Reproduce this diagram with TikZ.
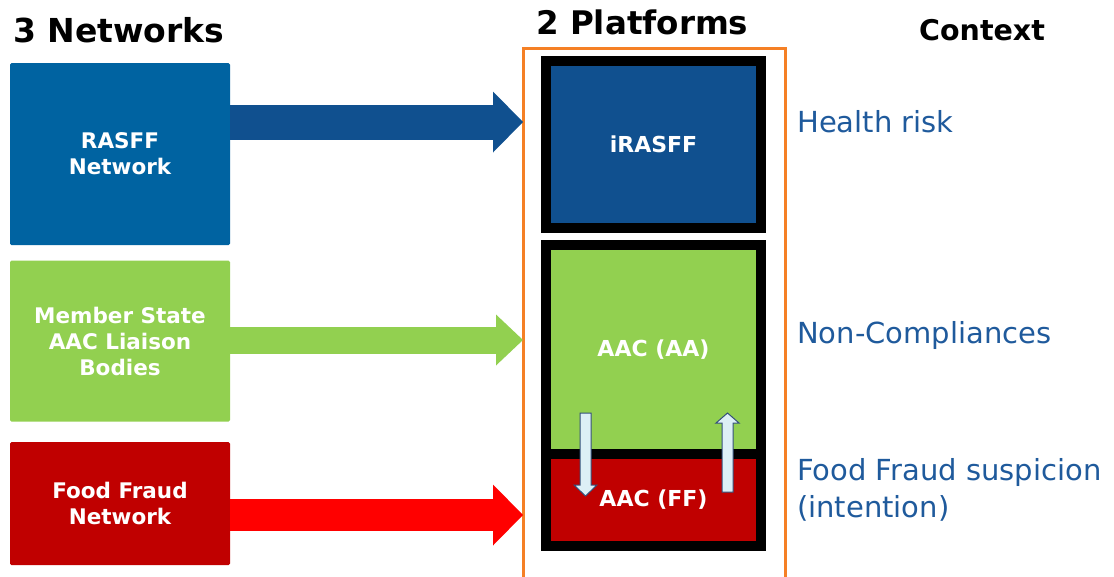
\documentclass[tikz,border=0pt]{standalone}
\usepackage{fontspec}
\setmainfont{DejaVu Sans}
\usetikzlibrary{arrows.meta}

\definecolor{netblue}{HTML}{0063A1}
\definecolor{platblue}{HTML}{10508F}
\definecolor{aagreen}{HTML}{92D050}
\definecolor{ffred}{HTML}{C00000}
\definecolor{arrred}{HTML}{FF0000}
\definecolor{frameorange}{HTML}{F58025}
\definecolor{ctxblue}{HTML}{1F5A9C}
\definecolor{smallfill}{HTML}{DDEFF6}
\definecolor{smalldraw}{HTML}{34507A}

\begin{document}
\begin{tikzpicture}[x=1pt, y=-1pt,
        network/.style={rectangle, rounded corners=1.5pt, minimum width=220pt, text=white, align=center, font=\bfseries\fontsize{21.5}{26}\selectfont},
        platform/.style={rectangle, draw=black, line width=10pt, minimum width=215pt, text=white, font=\bfseries\fontsize{22}{26}\selectfont},
        heading/.style={anchor=base west, inner sep=0pt, font=\bfseries\fontsize{32.5}{38}\selectfont},
        context/.style={anchor=base west, inner sep=0pt, text=ctxblue, align=left, font=\fontsize{29}{37}\selectfont},
        bigarrow/.style={line width=#1, -{Triangle[length=30pt,width=61pt,line width=0pt]}},
        smallarrow/.style={fill=smallfill, draw=smalldraw, line width=1pt}]
            \useasboundingbox (0,0) rectangle (1114,576);

            % column titles
            \node[heading, font=\bfseries\fontsize{33}{38}\selectfont] (hnet) at (13,42) {3 Networks};
            \node[heading] (hplat) at (536,34) {2 Platforms};
            \node[heading, font=\bfseries\fontsize{28.5}{34}\selectfont] (hctx) at (919,40) {Context};

            % networks
            \node[network, fill=netblue, minimum height=182pt] (rasff) at (120,154) {RASFF\\Network};
            \node[network, fill=aagreen, minimum height=161pt] (msab) at (120,341) {Member State\\AAC Liaison\\Bodies};
            \node[network, fill=ffred, minimum height=123pt] (ffn) at (120,503.5) {Food Fraud\\Network};

            % orange frame, open at the bottom
            \coordinate (fl) at (523,48);
            \coordinate (fr) at (785,48);
            \draw[frameorange, line width=3pt] (fl |- 0,580) -- (fl) -- (fr) -- (fr |- 0,580);

            % platforms
            \node[platform, fill=platblue, minimum height=167pt] (irasff) at (653.5,144.5) {iRASFF};
            \node[platform, fill=aagreen, minimum height=209pt] (aa) at (653.5,349.5) {AAC (AA)};
            \node[platform, fill=ffred, minimum height=92pt] (ff) at (653.5,500) {AAC (FF)};

            % networks feed the platforms
            \draw[bigarrow=35pt, platblue] (rasff.east |- 0,122) -- (fl |- 0,122);
            \draw[bigarrow=27pt, aagreen, -{Triangle[length=27pt,width=51pt,line width=0pt]}] (msab.east |- 0,340) -- (fl |- 0,340);
            \draw[bigarrow=32pt, arrred] (ffn.east |- 0,515) -- (fl |- 0,515);

            % exchange between AA and FF
            \draw[smallarrow] (580,413) -- (591,413) -- (591,485) -- (597,485) -- (585.5,496) -- (574,485) -- (580,485) -- cycle;
            \draw[smallarrow] (722,492) -- (733,492) -- (733,423) -- (739,423) -- (727.5,413) -- (716,423) -- (722,423) -- cycle;

            % context
            \node[context] (chealth) at (797,132) {Health risk};
            \node[context] (cnon) at (797,343) {Non-Compliances};
            \node[context] (cfraud) at (797,517) {Food Fraud suspicion\\(intention)};
        \end{tikzpicture}
\end{document}
